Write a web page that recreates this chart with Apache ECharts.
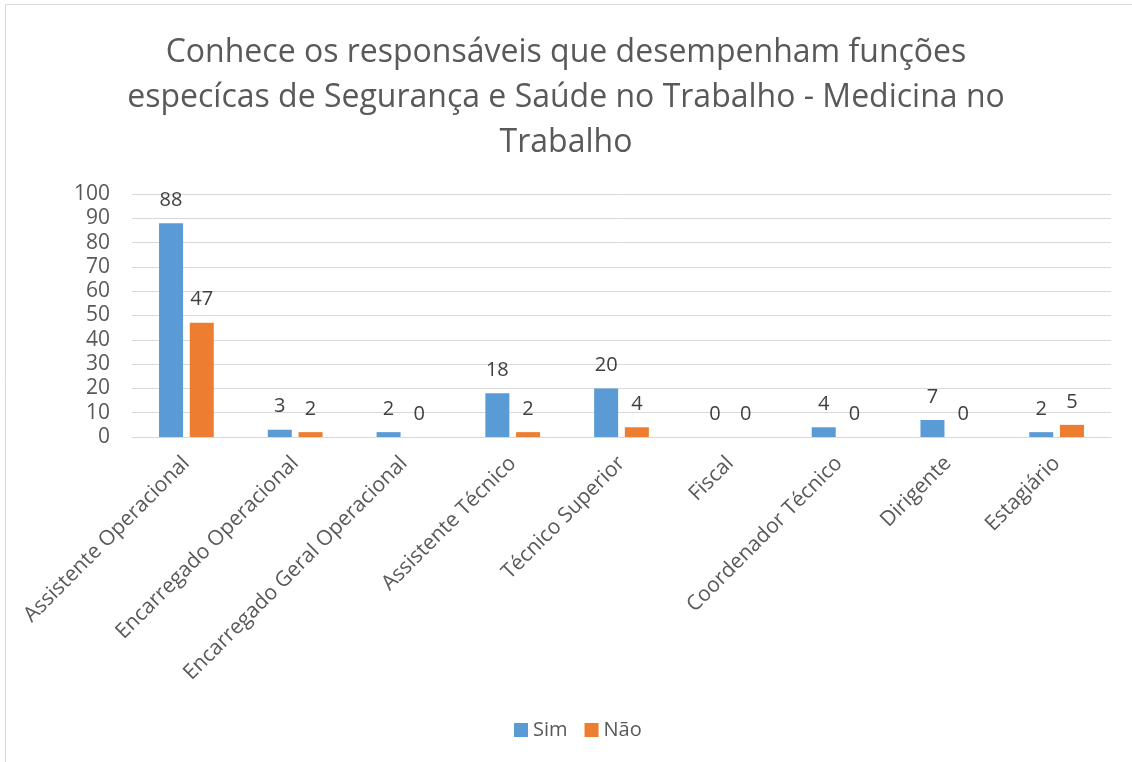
<!DOCTYPE html>
<html>
<head>
<meta charset="utf-8">
<script src="https://cdn.jsdelivr.net/npm/echarts@6/dist/echarts.min.js"></script>
<style>
  html, body { margin: 0; padding: 0; background: #fff; }
  #chart { width: 1132px; height: 762px; }
</style>
</head>
<body>
<div id="chart"></div>
<script>
// categorias e valores
const categories = [
  'Assistente Operacional', 'Encarregado Operacional', 'Encarregado Geral Operacional',
  'Assistente Técnico', 'Técnico Superior', 'Fiscal', 'Coordenador Técnico',
  'Dirigente', 'Estagiário'
]
const sim = [88, 3, 2, 18, 20, 0, 4, 7, 2]
const nao = [47, 2, 0, 2, 4, 0, 0, 0, 5]

const font = '"Open Sans", "Noto Sans", sans-serif'
const txt = '#595959'
const grid = '#d9d9d9'

const chart = echarts.init(document.getElementById('chart'), null, { renderer: 'canvas' })

const label = {
  show: true, position: 'top', distance: 13,
  color: '#404040', fontFamily: font, fontSize: 20
}

chart.setOption({
  animation: false,
  graphic: [{
    type: 'rect', left: 3, top: 2,
    shape: { width: 1140, height: 770 },
    style: { fill: 'none', stroke: grid, lineWidth: 1 }
  }],
  title: {
    text: 'Conhece os responsáveis que desempenham funções\nespecícas de Segurança e Saúde no Trabalho - Medicina no\nTrabalho',
    left: 'center', top: 25,
    textStyle: { color: txt, fontFamily: font, fontSize: 32, fontWeight: 'normal', lineHeight: 45 }
  },
  legend: {
    bottom: 17, left: 509,
    itemWidth: 14, itemHeight: 14, itemGap: 17,
    icon: 'rect',
    textStyle: { color: txt, fontFamily: font, fontSize: 20 },
    data: ['Sim', 'Não']
  },
  grid: { left: 132, right: 21, top: 194, bottom: 325, containLabel: false },
  xAxis: {
    type: 'category', data: categories,
    axisLine: { lineStyle: { color: grid } },
    axisTick: { show: false },
    axisLabel: { rotate: 45, color: txt, fontFamily: font, fontSize: 21, interval: 0, margin: 23 }
  },
  yAxis: {
    type: 'value', min: 0, max: 100, interval: 10,
    axisLine: { show: false }, axisTick: { show: false },
    splitLine: { lineStyle: { color: grid } },
    axisLabel: { color: txt, fontFamily: font, fontSize: 21, margin: 22 }
  },
  series: [
    { name: 'Sim', type: 'bar', data: sim, barWidth: 24, barGap: '28%',
      itemStyle: { color: '#5b9bd5' }, label },
    { name: 'Não', type: 'bar', data: nao, barWidth: 24,
      itemStyle: { color: '#ed7d31' }, label }
  ]
})
</script>
</body>
</html>
